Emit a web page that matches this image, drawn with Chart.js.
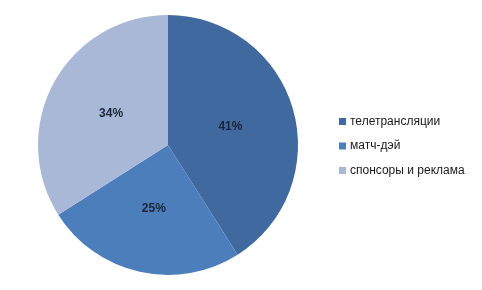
<!DOCTYPE html>
<html>
<head>
<meta charset="utf-8">
<script src="https://cdn.jsdelivr.net/npm/chart.js@4.4.1/dist/chart.umd.min.js"></script>
<style>
  html, body { margin: 0; padding: 0; background: #fff; }
  #wrap { position: relative; width: 482px; height: 290px; }
</style>
</head>
<body>
<div id="wrap"><canvas id="chart" width="482" height="290"></canvas></div>
<script>
const LABELS = ['телетрансляции', 'матч-дэй', 'спонсоры и реклама'];
const VALUES = [41, 25, 34];
const COLORS = ['#4069a0', '#4c7ebb', '#a9b8d6'];

// slice percentages inside the pie, at half radius
const sliceLabels = {
  id: 'sliceLabels',
  afterDatasetsDraw(chart) {
    const ctx = chart.ctx;
    const meta = chart.getDatasetMeta(0);
    ctx.save();
    ctx.font = 'bold 12px "Liberation Sans", Arial, sans-serif';
    ctx.fillStyle = '#1b2636';
    ctx.textAlign = 'center';
    ctx.textBaseline = 'middle';
    meta.data.forEach((arc, i) => {
      const mid = (arc.startAngle + arc.endAngle) / 2;
      const r = arc.outerRadius * 0.5;
      ctx.fillText(VALUES[i] + '%', arc.x + Math.cos(mid) * r, arc.y + Math.sin(mid) * r);
    });
    ctx.restore();
  }
};

// legend on the right, drawn from LABELS / COLORS
const sideLegend = {
  id: 'sideLegend',
  afterDraw(chart) {
    const ctx = chart.ctx;
    ctx.save();
    ctx.font = '12px "Liberation Sans", Arial, sans-serif';
    ctx.textBaseline = 'middle';
    LABELS.forEach((lab, i) => {
      const y = 121.5 + i * 24.5;
      ctx.fillStyle = COLORS[i];
      ctx.fillRect(339, y - 3.5, 7, 7);
      ctx.fillStyle = '#1a1a1a';
      ctx.fillText(lab, 350, y);
    });
    ctx.restore();
  }
};

new Chart(document.getElementById('chart'), {
  type: 'pie',
  data: {
    labels: LABELS,
    datasets: [{ data: VALUES, backgroundColor: COLORS, borderWidth: 0 }]
  },
  options: {
    responsive: false,
    animation: false,
    layout: { padding: { left: 38, right: 184, top: 15, bottom: 15 } },
    plugins: { legend: { display: false }, tooltip: { enabled: false } }
  },
  plugins: [sliceLabels, sideLegend]
});
</script>
</body>
</html>
